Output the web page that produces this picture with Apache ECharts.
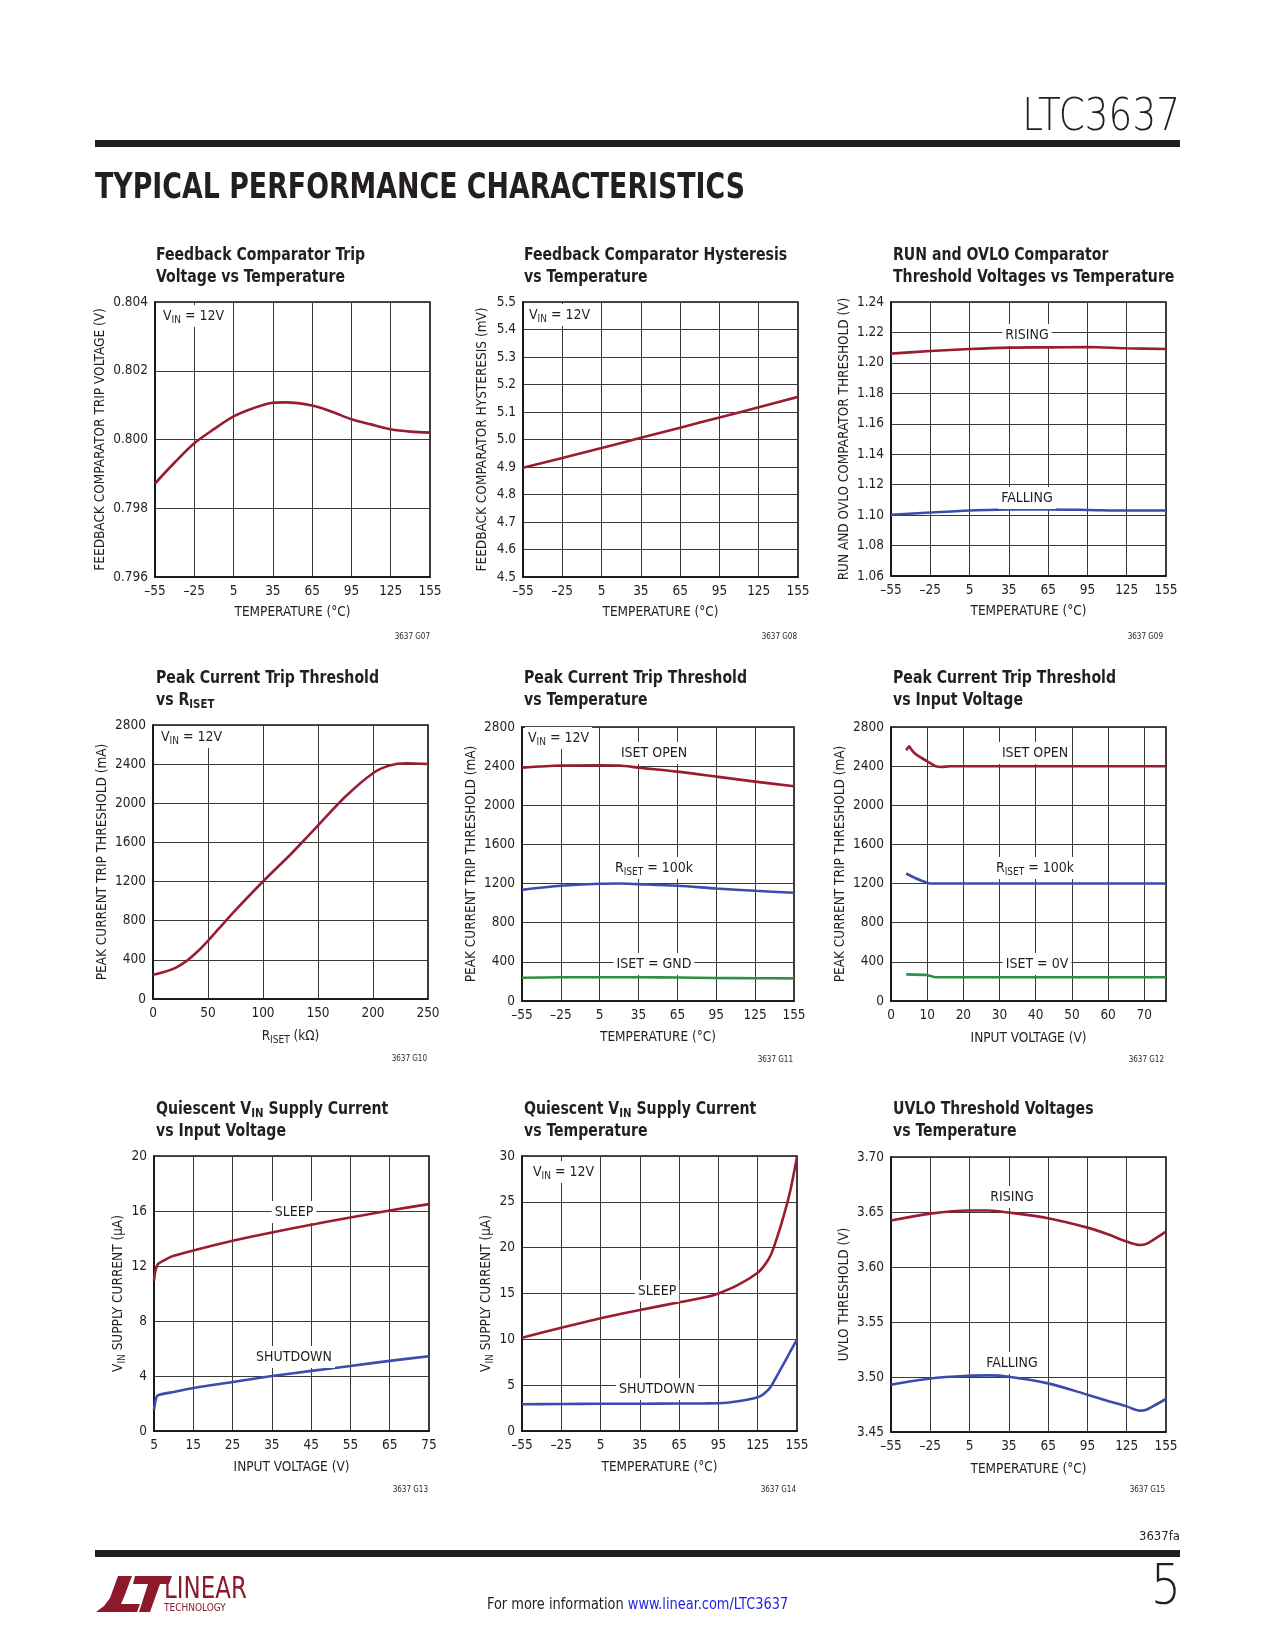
<!DOCTYPE html>
<html><head><meta charset="utf-8">
<script src="https://cdn.jsdelivr.net/npm/echarts@6/dist/echarts.min.js"></script>
<style>html,body{margin:0;padding:0;background:#fff}#c{width:1275px;height:1650px}</style>
</head><body><div id="c"></div>
<script>
// ---------------- DATA ----------------
// G07 Feedback comparator trip voltage vs temperature
const G07_T = [-55,-40,-25,-10,5,20,35,45,65,80,95,110,125,140,155];
const G07_V = [0.79872,0.79933,0.79989,0.8003,0.80067,0.80091,0.80107,0.80108,0.80099,0.80081,0.80059,0.80044,0.8003,0.80023,0.8002];
// G08 Feedback comparator hysteresis vs temperature
const G08_T = [-55,-25,5,35,65,95,125,155];
const G08_H = [4.897,4.933,4.969,5.006,5.043,5.08,5.117,5.155];
// G09 RUN / OVLO thresholds
const G09_T = [-55,-25,5,35,65,95,125,155];
const G09_RISE = [1.2061,1.2078,1.2091,1.2100,1.2102,1.2104,1.2096,1.2091];
const G09_FALL = [1.1002,1.1017,1.1030,1.1037,1.1037,1.1034,1.1030,1.1030];
// G10 Peak current vs RISET
const G10_R = [0,10,20,30,40,50,60,75,100,125,140,150,175,200,215,230,250];
const G10_I = [248,276,316,384,480,595,721,908,1201,1477,1654,1773,2069,2307,2385,2409,2402];
// G11 Peak current vs temperature
const G11_T = [-55,-25,5,20,35,65,95,125,155];
const G11_OPEN = [2385,2406,2409,2406,2385,2344,2293,2242,2195];
const G11_100K = [1136,1177,1198,1201,1194,1177,1150,1126,1106];
const G11_GND  = [238,242,242,242,242,240,235,233,231];
// G12 Peak current vs input voltage
const G12_V_OPEN = [4.2,5,5.8,7,10,12.4,14,16.3,76];
const G12_OPEN   = [2562,2603,2562,2518,2450,2399,2392,2399,2399];
const G12_V_100K = [4.2,7,10,10.7,76];
const G12_100K   = [1303,1252,1208,1201,1201];
const G12_V_0V   = [4.2,9.8,12.4,76];
const G12_0V     = [272,265,242,242];
// G13 Quiescent current vs input voltage
const G13_V_SLEEP = [5,5.3,6,8,10,15,25,35,45,55,65,75];
const G13_SLEEP   = [10.92,11.58,12.14,12.48,12.74,13.13,13.83,14.44,15.0,15.53,16.04,16.5];
const G13_V_SHDN  = [5,5.5,6,10,15,25,35,45,55,65,75];
const G13_SHDN    = [1.55,2.35,2.6,2.84,3.13,3.57,4.0,4.37,4.73,5.1,5.44];
// G14 Quiescent current vs temperature
const G14_T = [-55,-25,5,35,65,85,95,110,125,130,135,140,145,150,155];
const G14_SLEEP = [10.18,11.27,12.29,13.2,14.04,14.58,15.0,15.93,17.27,18.04,19.2,21.2,23.56,26.3,29.93];
const G14_SHDN  = [2.91,2.95,2.97,2.98,3.0,3.01,3.02,3.24,3.67,4.1,4.84,6.1,7.38,8.7,10.0];
// G15 UVLO thresholds
const G15_T = [-55,-25,5,20,35,65,95,110,125,135,140,145,155];
const G15_RISE = [3.6422,3.6485,3.6513,3.6513,3.6495,3.6443,3.6358,3.630,3.6231,3.620,3.621,3.6245,3.6322];
const G15_FALL = [3.493,3.4987,3.5012,3.5015,3.5003,3.4942,3.4839,3.4785,3.4733,3.4694,3.4703,3.4733,3.48];

// ---------------- STYLE ----------------
const RED = '#9b1c31', BLUE = '#3b4cae', GREEN = '#2f8f42', INK = '#231f20', GRIDC = '#3a3a3a';
const FN = "'Liberation Sans Narrow','DejaVu Sans Condensed','Arial Narrow',sans-serif";
const tFmt = v => v < 0 ? '\u2013' + Math.abs(v) : String(v);
const zip = (xs, ys) => xs.map((x, i) => [x, ys[i]]);
const SUBRICH = {
  s: {fontSize: 10, fontFamily: FN, color: INK, verticalAlign: 'bottom'}
};

const panels = [
  {box:[155,302,275,275], title:'Feedback Comparator Trip\nVoltage vs Temperature',
   x:[-55,155,30,tFmt], y:[0.796,0.804,0.002,v=>v.toFixed(3)],
   xName:'TEMPERATURE (°C)', xGap:26, yName:'FEEDBACK COMPARATOR TRIP VOLTAGE (V)', yGap:37,
   lines:[[G07_T,G07_V,RED]], note:'3637 G07'},
  {box:[523,302,275,275], title:'Feedback Comparator Hysteresis\nvs Temperature',
   x:[-55,155,30,tFmt], y:[4.5,5.5,0.1,v=>v.toFixed(1)],
   xName:'TEMPERATURE (°C)', xGap:26, yName:'FEEDBACK COMPARATOR HYSTERESIS (mV)', yGap:32,
   lines:[[G08_T,G08_H,RED]], note:'3637 G08'},
  {box:[891,302,275,274], title:'RUN and OVLO Comparator\nThreshold Voltages vs Temperature',
   x:[-55,155,30,tFmt], y:[1.06,1.24,0.02,v=>v.toFixed(2)],
   xName:'TEMPERATURE (°C)', xGap:26, yName:'RUN AND OVLO COMPARATOR THRESHOLD (V)', yGap:36,
   lines:[[G09_T,G09_RISE,RED],[G09_T,G09_FALL,BLUE]], note:'3637 G09'},
  {box:[153,725,275,274], title:'Peak Current Trip Threshold\nvs R{t|ISET}',
   x:[0,250,50,v=>String(v)], y:[0,2800,400,v=>String(v)],
   xName:'R{s|ISET} (k\u03a9)', xGap:28, yName:'PEAK CURRENT TRIP THRESHOLD (mA)', yGap:28,
   lines:[[G10_R,G10_I,RED]], note:'3637 G10'},
  {box:[522,727,272,274], title:'Peak Current Trip Threshold\nvs Temperature',
   x:[-55,155,30,tFmt], y:[0,2800,400,v=>String(v)],
   xName:'TEMPERATURE (°C)', xGap:27, yName:'PEAK CURRENT TRIP THRESHOLD (mA)', yGap:26,
   lines:[[G11_T,G11_OPEN,RED],[G11_T,G11_100K,BLUE],[G11_T,G11_GND,GREEN]], note:'3637 G11'},
  {box:[891,727,275,274], title:'Peak Current Trip Threshold\nvs Input Voltage',
   x:[0,76,10,v=>v>70?'':String(v)], y:[0,2800,400,v=>String(v)],
   xName:'INPUT VOLTAGE (V)', xGap:28, yName:'PEAK CURRENT TRIP THRESHOLD (mA)', yGap:30,
   lines:[[G12_V_OPEN,G12_OPEN,RED],[G12_V_100K,G12_100K,BLUE],[G12_V_0V,G12_0V,GREEN]], note:'3637 G12', smooth:0.15},
  {box:[154,1156,275,275], title:'Quiescent V{t|IN} Supply Current\nvs Input Voltage',
   x:[5,75,10,v=>String(v)], y:[0,20,4,v=>String(v)],
   xName:'INPUT VOLTAGE (V)', xGap:27, yName:'V{s|IN} SUPPLY CURRENT (\u00b5A)', yGap:19,
   lines:[[G13_V_SLEEP,G13_SLEEP,RED],[G13_V_SHDN,G13_SHDN,BLUE]], note:'3637 G13', smooth:0.2},
  {box:[522,1156,275,275], title:'Quiescent V{t|IN} Supply Current\nvs Temperature',
   x:[-55,155,30,tFmt], y:[0,30,5,v=>String(v)],
   xName:'TEMPERATURE (°C)', xGap:27, yName:'V{s|IN} SUPPLY CURRENT (\u00b5A)', yGap:27,
   lines:[[G14_T,G14_SLEEP,RED],[G14_T,G14_SHDN,BLUE]], note:'3637 G14', smooth:0.25},
  {box:[891,1157,275,275], title:'UVLO Threshold Voltages\nvs Temperature',
   x:[-55,155,30,tFmt], y:[3.45,3.70,0.05,v=>v.toFixed(2)],
   xName:'TEMPERATURE (°C)', xGap:28, yName:'UVLO THRESHOLD (V)', yGap:27,
   lines:[[G15_T,G15_RISE,RED],[G15_T,G15_FALL,BLUE]], note:'3637 G15'}
];

const titleLefts = [156,524,893];
const titleTops = [244,667,1098];

const option = {animation:false, backgroundColor:'#fff', grid:[], xAxis:[], yAxis:[], series:[], graphic:[]};

panels.forEach((p, i) => {
  const [l, t, w, h] = p.box;
  option.grid.push({left:l, top:t, width:w, height:h, show:true, borderColor:'#111', borderWidth:1.6, containLabel:false});
  const axisCommon = (ax, name, gap, rot) => ({
    type:'value', gridIndex:i, min:ax[0], max:ax[1], interval:ax[2],
    axisLine:{show:true, onZero:false, lineStyle:{color:'#111', width:1.6}},
    axisTick:{show:false},
    splitLine:{show:true, lineStyle:{color:GRIDC, width:1}},
    axisLabel:{formatter:ax[3], color:INK, fontSize:13.5, fontFamily:FN, margin:7, showMinLabel:true, showMaxLabel:true},
    name:name, nameLocation:'middle', nameGap:gap, nameRotate:rot,
    nameTextStyle:{color:INK, fontSize:13.5, fontFamily:FN, lineHeight:18, rich:SUBRICH}
  });
  option.xAxis.push(axisCommon(p.x, p.xName, p.xGap, 0));
  option.yAxis.push(axisCommon(p.y, p.yName, p.yGap, 90));
  p.lines.forEach(([xs, ys, c]) => {
    option.series.push({type:'line', xAxisIndex:i, yAxisIndex:i, data:zip(xs, ys),
      symbol:'none', showSymbol:false, smooth:p.smooth!==undefined?p.smooth:0.3,
      lineStyle:{color:c, width:2.6}, itemStyle:{color:c}, z:5});
  });
  option.graphic.push({type:'text', x:titleLefts[i % 3], y:titleTops[Math.floor(i / 3)], scaleX:0.87, z:60,
    style:{text:p.title, fill:INK, fontSize:18, fontWeight:'bold', fontFamily:FN, lineHeight:22,
      align:'left', verticalAlign:'top',
      rich:{t:{fontSize:13, fontWeight:'bold', fontFamily:FN, fill:INK, verticalAlign:'bottom'}}}});
});

// notes under charts
const notePos = [[430,637],[797,637],[1163,637],[427,1059],[793,1060],[1164,1060],[428,1490],[796,1490],[1165,1490]];
notePos.forEach((q, i) => option.graphic.push({type:'text', x:q[0], y:q[1], z:50,
  style:{text:panels[i].note, fill:INK, fontSize:8, fontFamily:FN, align:'right', verticalAlign:'middle'}}));

// annotations
function ann(x, y, text, align) {
  return {type:'text', x:x, y:y, z:100,
    style:{text:text, fill:INK, fontSize:14, fontFamily:FN, align:align||'center', verticalAlign:'middle',
      backgroundColor:'#fff', padding:[2,3,2,3], lineHeight:18,
      rich:{s:{fontSize:10, fontFamily:FN, fill:INK, verticalAlign:'bottom'}}}};
}
const VIN = 'V{s|IN} = 12V';
option.graphic.push(
  ann(160,316,VIN,'left'), ann(526,315,VIN,'left'),
  ann(1027,335,'RISING'), ann(1027,498,'FALLING'),
  ann(158,737,VIN,'left'),
  ann(525,738,VIN,'left'), ann(654,753,'ISET OPEN'), ann(654,868,'R{s|ISET} = 100k'), ann(654,964,'ISET = GND'),
  ann(1035,753,'ISET OPEN'), ann(1035,868,'R{s|ISET} = 100k'), ann(1037,964,'ISET = 0V'),
  ann(294,1212,'SLEEP'), ann(294,1357,'SHUTDOWN'),
  ann(530,1172,VIN,'left'), ann(657,1291,'SLEEP'), ann(657,1389,'SHUTDOWN'),
  ann(1012,1197,'RISING'), ann(1012,1363,'FALLING')
);

// header / footer
const LOGO = '#8c1a2c';
const LIGHT = "'DejaVu Sans','Lato',sans-serif";
option.graphic.push(
  {type:'text', x:1180, y:119, scaleX:0.85, style:{text:'LTC3637', fill:INK, fontSize:44, fontWeight:200, fontFamily:LIGHT, align:'right', verticalAlign:'middle'}},
  {type:'rect', shape:{x:95, y:140, width:1085, height:7}, style:{fill:INK}},
  {type:'text', x:95, y:189, scaleX:0.828, style:{text:'TYPICAL PERFORMANCE CHARACTERISTICS', fill:INK, fontSize:36, fontWeight:'bold', fontFamily:"'DejaVu Sans Condensed','DejaVu Sans',sans-serif", align:'left', verticalAlign:'middle'}},
  {type:'text', x:1180, y:1537, style:{text:'3637fa', fill:INK, fontSize:13, fontFamily:FN, align:'right', verticalAlign:'middle'}},
  {type:'rect', shape:{x:95, y:1550, width:1085, height:7}, style:{fill:INK}},
  {type:'text', x:1181, y:1588, scaleX:0.85, style:{text:'5', fill:INK, fontSize:56, fontWeight:200, fontFamily:LIGHT, align:'right', verticalAlign:'middle'}},
  {type:'text', x:487, y:1605, scaleX:0.9, style:{text:'For more information {a|www.linear.com/LTC3637}', fill:INK, fontSize:16, fontFamily:FN, align:'left', verticalAlign:'middle',
     rich:{a:{fill:'#1f1fe0', fontSize:16, fontFamily:FN}}}},
  {type:'polygon', shape:{points:[[118,1576],[132,1576],[124,1597],[121,1604],[140,1604],[137,1612],[96,1612],[104,1606],[110,1598]]}, style:{fill:LOGO}},
  {type:'polygon', shape:{points:[[135,1576],[172,1576],[169,1584],[160,1584],[150,1612],[139,1612],[148,1584],[133,1584]]}, style:{fill:LOGO}},
  {type:'text', x:164, y:1590, scaleX:0.85, style:{text:'LINEAR', fill:LOGO, fontSize:30, fontFamily:FN, align:'left', verticalAlign:'middle'}},
  {type:'text', x:164, y:1608, style:{text:'TECHNOLOGY', fill:LOGO, fontSize:10, fontFamily:FN, align:'left', verticalAlign:'middle'}}
);

const chart = echarts.init(document.getElementById('c'), null, {renderer:'canvas', width:1275, height:1650});
chart.setOption(option);
</script>
</body></html>
